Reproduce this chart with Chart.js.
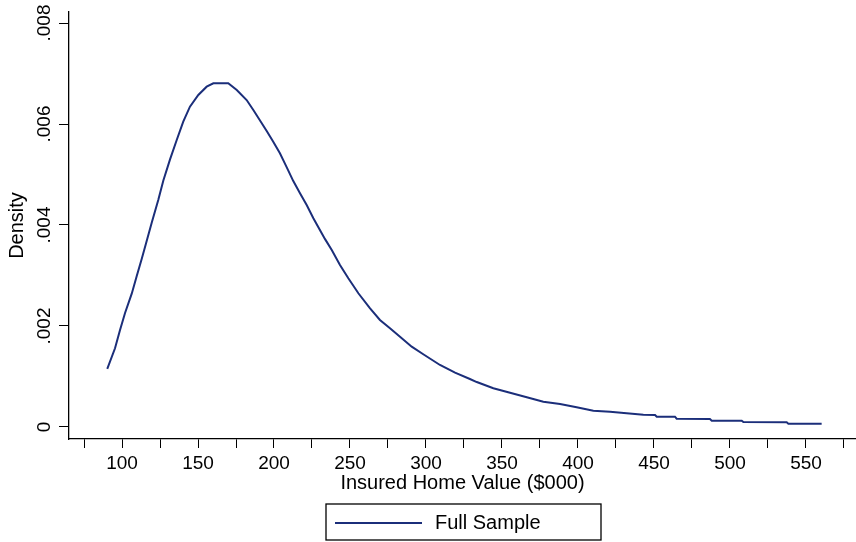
<!DOCTYPE html>
<html>
<head>
<meta charset="utf-8">
<script src="https://cdn.jsdelivr.net/npm/chart.js@4.4.1/dist/chart.umd.min.js"></script>
<style>
	html, body { margin: 0; padding: 0; background: #fff; }
	canvas { display: block; }
</style>
</head>
<body>
<canvas id="graficoDensidade" width="856" height="542"></canvas>
<script>
// valores (x em $000, densidade)
var valores = [90.3, 95.4, 98.7, 102.0, 106.4, 109.7, 113.0, 115.1, 119.5, 123.9,
	127.2, 131.6, 136.0, 140.3, 144.7, 150.2, 155.7, 160.1, 169.9, 175.5,
	182.0, 186.4, 190.8, 195.2, 199.5, 203.9, 208.4, 212.7, 217.1, 221.5,
	225.9, 231.4, 233.6, 238.0, 243.4, 248.9, 255.5, 263.2, 269.7, 276.3,
	282.9, 290.6, 298.2, 309.2, 319.1, 328.9, 333.4, 344.3, 355.3, 366.3,
	377.2, 388.2, 399.1, 410.1, 421.1, 432.0, 443.0, 450.7, 451.8, 463.8,
	464.9, 486.8, 488.0, 507.7, 508.8, 537.3, 538.4, 560.3];
var densidade = [0.001149, 0.001558, 0.001921, 0.002257, 0.002640, 0.002990, 0.003330, 0.003560, 0.004040, 0.004500,
	0.004880, 0.005300, 0.005683, 0.006046, 0.006343, 0.006574, 0.006739, 0.006806, 0.006806, 0.006673,
	0.006475, 0.006277, 0.006070, 0.005860, 0.005650, 0.005420, 0.005140, 0.004870, 0.004628, 0.004396,
	0.004133, 0.003836, 0.003720, 0.003505, 0.003208, 0.002945, 0.002648, 0.002350, 0.002119, 0.001954,
	0.001788, 0.001590, 0.001440, 0.001228, 0.001075, 0.000950, 0.000890, 0.000766, 0.000679, 0.000588,
	0.000501, 0.000455, 0.000390, 0.000323, 0.000303, 0.000271, 0.000240, 0.000238, 0.000204, 0.000204,
	0.000164, 0.000158, 0.000125, 0.000125, 0.000099, 0.000093, 0.000065, 0.000065];
var xTicks = [75, 100, 125, 150, 175, 200, 225, 250, 275, 300, 325, 350, 375, 400, 425, 450, 475, 500, 525, 550, 575];
var xRotulos = [100, 150, 200, 250, 300, 350, 400, 450, 500, 550];
var yTicks = [0, 0.002, 0.004, 0.006, 0.008];
var serie = 'Full Sample';

var fonte = 'Liberation Sans, Arial, Helvetica, sans-serif';
var corLinha = '#1b2e7a';

// legenda com moldura, no estilo do Stata
var caixaLegenda = {
	id: 'caixaLegenda',
	afterDraw: function(chart) {
		var ctx = chart.ctx;
		var area = chart.chartArea;
		var cx = (area.left + area.right) / 2;
		var esq = cx - 136.5;
		var topo = chart.scales.x.bottom + 5;
		var meio = topo + 19;
		var ds = chart.data.datasets[0];

		ctx.save();
		ctx.strokeStyle = '#000';
		ctx.lineWidth = 1.3;
		ctx.strokeRect(esq, topo, 275, 36);

		ctx.strokeStyle = ds.borderColor;
		ctx.lineWidth = 2;
		ctx.beginPath();
		ctx.moveTo(esq + 9, meio);
		ctx.lineTo(esq + 96, meio);
		ctx.stroke();

		ctx.fillStyle = '#000';
		ctx.font = '20px ' + fonte;
		ctx.textBaseline = 'middle';
		ctx.textAlign = 'left';
		ctx.fillText(ds.label, esq + 109, meio);
		ctx.restore();
	}
};

var pontos = valores.map(function(v, i) {
	return { x: v, y: densidade[i] };
});

new Chart(document.getElementById('graficoDensidade').getContext('2d'), {
	type: 'line',
	data: {
		datasets: [{
			label: serie,
			data: pontos,
			borderColor: corLinha,
			borderWidth: 2,
			pointRadius: 0,
			tension: 0,
			fill: false
		}]
	},
	options: {
		responsive: false,
		animation: false,
		layout: { padding: { left: 0, right: 0, top: 12, bottom: 43 } },
		plugins: {
			legend: { display: false },
			tooltip: { enabled: false }
		},
		scales: {
			x: {
				type: 'linear',
				min: 65.13,
				max: 582.9,
				afterBuildTicks: function(eixo) {
					eixo.ticks = xTicks.map(function(v) { return { value: v }; });
				},
				afterFit: function(eixo) {
					eixo.height = 60;
					eixo.paddingLeft = 0;
					eixo.paddingRight = 0;
				},
				ticks: {
					autoSkip: false,
					minRotation: 0,
					maxRotation: 0,
					padding: 3.9,
					color: '#000',
					font: { family: fonte, size: 19 },
					callback: function(v) {
						return xRotulos.indexOf(v) >= 0 ? String(v) : '';
					}
				},
				grid: { drawOnChartArea: false, tickLength: 9, color: '#000', lineWidth: 1 },
				border: { color: '#000', width: 1.3 },
				title: {
					display: true,
					text: 'Insured Home Value ($000)',
					color: '#000',
					font: { family: fonte, size: 20 },
					padding: { top: 0, bottom: 3.5 }
				}
			},
			y: {
				type: 'linear',
				min: -0.000238,
				max: 0.008218,
				afterBuildTicks: function(eixo) {
					eixo.ticks = yTicks.map(function(v) { return { value: v }; });
				},
				afterFit: function(eixo) {
					eixo.width = 69;
					eixo.paddingTop = 0;
					eixo.paddingBottom = 0;
				},
				ticks: {
					minRotation: 90,
					maxRotation: 90,
					crossAlign: 'center',
					padding: -4,
					color: '#000',
					font: { family: fonte, size: 19 },
					callback: function(v) {
						return v === 0 ? '0' : String(+v.toFixed(3)).replace(/^0/, '');
					}
				},
				grid: { drawOnChartArea: false, tickLength: 10, color: '#000', lineWidth: 1 },
				border: { color: '#000', width: 1.3 },
				title: {
					display: true,
					text: 'Density',
					color: '#000',
					font: { family: fonte, size: 20 },
					padding: { top: 5.4, bottom: 0 }
				}
			}
		}
	},
	plugins: [caixaLegenda]
});
</script>
</body>
</html>
